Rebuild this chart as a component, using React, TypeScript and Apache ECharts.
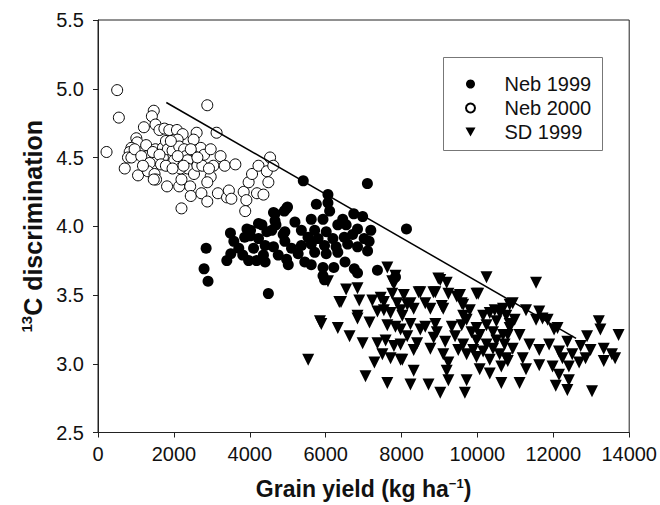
import React, { useEffect, useRef } from "react";
import * as echarts from "echarts";

// Neb 2000 (open circles): [grain yield kg/ha, 13C discrimination]
const neb2000: number[][] = [
  [505, 4.99], [550, 4.79], [225, 4.54], [2880, 4.88], [1470, 4.84], [1420, 4.8], [1210, 4.72],
  [1515, 4.74], [1620, 4.7], [1750, 4.71], [1880, 4.7], [2080, 4.7], [2230, 4.67], [2600, 4.68],
  [2520, 4.63], [3125, 4.68], [1010, 4.64], [1035, 4.61], [880, 4.57], [835, 4.54], [790, 4.5],
  [880, 4.5], [705, 4.42], [1055, 4.37], [1270, 4.59], [1300, 4.51], [1360, 4.46], [1315, 4.4],
  [1490, 4.38], [1530, 4.34], [1515, 4.56], [1710, 4.57], [1710, 4.5], [1790, 4.62], [1840, 4.56],
  [1965, 4.55], [2010, 4.48], [2100, 4.63], [2140, 4.58], [2270, 4.56], [2315, 4.51], [2360, 4.48],
  [2360, 4.42], [2530, 4.38], [2620, 4.44], [2710, 4.57], [2795, 4.52], [2750, 4.44], [2970, 4.56],
  [3040, 4.44], [2970, 4.36], [2880, 4.32], [3230, 4.51], [3340, 4.44], [3620, 4.45], [1820, 4.29],
  [2140, 4.29], [2200, 4.34], [2430, 4.29], [2445, 4.22], [2200, 4.13], [2725, 4.24], [2880, 4.18],
  [3160, 4.24], [3400, 4.21], [3450, 4.26], [3515, 4.2], [3840, 4.25], [3910, 4.19], [3880, 4.11],
  [3970, 4.32], [4060, 4.38], [4190, 4.24], [4360, 4.23], [4230, 4.44], [4450, 4.4], [4490, 4.32],
  [4535, 4.5], [4620, 4.44], [965, 4.56], [1140, 4.51], [1445, 4.54], [1620, 4.52], [1660, 4.45],
  [1790, 4.44], [2100, 4.51], [2170, 4.42], [1185, 4.44], [1920, 4.62], [1965, 4.42], [2445, 4.56],
  [2620, 4.5], [2925, 4.42], [1470, 4.34], [2255, 4.44],
];

// Neb 1999 (filled circles)
const neb1999: number[][] = [
  [3490, 3.95], [4665, 4.09], [4970, 4.13], [4230, 4.02], [3925, 3.98], [4450, 3.96], [4015, 3.93],
  [4690, 4.01], [4925, 3.96], [5410, 4.33], [7100, 4.31], [6060, 4.23], [6060, 4.17], [5755, 4.16],
  [4995, 4.14], [4910, 4.11], [6105, 4.11], [4625, 4.1], [4665, 4.04], [5190, 4.03], [5620, 4.05],
  [5930, 4.05], [6450, 4.05], [6740, 4.09], [6975, 4.07], [6540, 4.01], [6320, 4.01], [6840, 3.98],
  [7190, 3.97], [8130, 3.98], [4320, 4.01], [4580, 3.97], [4880, 3.94], [5360, 3.97], [5710, 3.97],
  [6015, 3.96], [5535, 3.92], [5800, 3.91], [6190, 3.91], [6490, 3.92], [6710, 3.94], [7015, 3.91],
  [7145, 3.89], [4230, 3.91], [4405, 3.86], [4625, 3.85], [4925, 3.89], [5100, 3.84], [5360, 3.86],
  [5620, 3.87], [5970, 3.86], [6275, 3.85], [6580, 3.87], [6840, 3.85], [7105, 3.82], [4360, 3.79],
  [4750, 3.79], [4970, 3.76], [5275, 3.8], [5710, 3.81], [6015, 3.8], [6320, 3.81], [4405, 3.74],
  [5015, 3.72], [5450, 3.74], [5620, 3.72], [5930, 3.7], [6215, 3.7], [6510, 3.74], [6755, 3.69],
  [6840, 3.66], [5930, 3.64], [5970, 3.61], [7365, 3.68], [7840, 3.63], [4490, 3.51], [2795, 3.69],
  [2900, 3.6], [2850, 3.84], [3395, 3.75], [3580, 3.89], [3710, 3.84], [3865, 3.92], [4020, 3.97],
  [3815, 3.79], [3500, 3.8], [4100, 3.84], [4180, 3.75], [3970, 3.75],
];

// SD 1999 (filled down-triangles)
const sd1999: number[][] = [
  [7625, 3.7], [7800, 3.58], [6540, 3.54], [6840, 3.55], [7230, 3.46], [6360, 3.45], [8060, 3.5],
  [8970, 3.62], [9190, 3.59], [6060, 3.6], [5540, 3.03], [5850, 3.31], [7840, 3.64], [10240, 3.63],
  [11545, 3.59], [6405, 3.45], [6885, 3.46], [5885, 3.29], [6840, 3.33], [7535, 3.45], [8495, 3.52],
  [8890, 3.52], [9020, 3.61], [9540, 3.5], [10020, 3.51], [10850, 3.43], [11280, 3.39], [8760, 3.4],
  [9100, 3.4], [9625, 3.43], [7975, 3.39], [8320, 3.4], [7365, 3.38], [7710, 3.37], [10590, 3.37],
  [10500, 3.31], [10980, 3.32], [11715, 3.33], [7755, 3.6], [7450, 3.48], [7755, 3.51], [8450, 3.52],
  [8840, 3.52], [9235, 3.51], [9455, 3.49], [9975, 3.51], [7535, 3.39], [7885, 3.44], [8235, 3.44],
  [8625, 3.44], [9060, 3.42], [9585, 3.44], [9800, 3.39], [10325, 3.37], [10675, 3.4], [10930, 3.44],
  [7625, 3.28], [7840, 3.27], [8235, 3.29], [8625, 3.27], [8890, 3.29], [9325, 3.27], [9715, 3.32],
  [9975, 3.26], [10240, 3.28], [10850, 3.29], [7580, 3.17], [7800, 3.13], [8150, 3.2], [8410, 3.15],
  [8845, 3.19], [9150, 3.16], [9410, 3.2], [9625, 3.14], [9975, 3.17], [10240, 3.14], [10500, 3.17],
  [10715, 3.14], [7495, 3.07], [7710, 3.04], [8020, 3.03], [8320, 3.1], [9100, 3.07], [9235, 3.01],
  [9715, 3.07], [9975, 3.05], [10150, 3.09], [10325, 3.03], [10585, 3.07], [10800, 3.02], [8320, 2.95],
  [9190, 2.95], [9235, 2.88], [10060, 2.96], [10325, 2.93], [10630, 2.98], [7625, 2.86], [8235, 2.85],
  [8710, 2.85], [9020, 2.79], [9715, 2.88], [9670, 2.79], [10630, 2.86], [11630, 3.38], [11545, 3.32],
  [11850, 3.32], [12110, 3.26], [12020, 3.25], [13200, 3.31], [13240, 3.25], [13720, 3.21], [12890, 3.2],
  [12370, 3.16], [12720, 3.13], [12980, 3.1], [13330, 3.11], [13545, 3.07], [13630, 3.04], [13330, 3.02],
  [10850, 3.26], [11110, 3.21], [11370, 3.14], [10930, 3.11], [11630, 3.1], [11890, 3.14], [12150, 3.09],
  [12500, 3.07], [12850, 3.04], [12240, 3.04], [11195, 3.04], [11630, 2.99], [11980, 2.98], [12410, 2.98],
  [12680, 3.01], [12150, 2.92], [12410, 2.88], [11110, 2.86], [12065, 2.84], [12370, 2.81], [13020, 2.8],
  [10760, 3.04], [11280, 2.96], [7975, 3.03], [8150, 3.43], [8020, 3.35], [7975, 3.14], [6320, 3.26],
  [6630, 3.2], [6975, 3.15], [7155, 3.3], [7365, 3.15], [6840, 3.35], [7285, 3.01], [7050, 2.91],
  [9845, 3.23], [10060, 3.21], [10410, 3.23], [10675, 3.21], [9585, 3.28], [9625, 3.35], [10150, 3.35],
  [10455, 3.39], [10760, 3.35], [10800, 3.21], [9890, 3.1], [10410, 3.11], [9495, 3.1], [8760, 3.11],
  [8495, 3.25], [7975, 3.25], [8930, 3.23],
];

// Regression line end points
const fitLine: number[][] = [[1800, 4.9], [12600, 3.185]];

const xTicks = { min: 0, max: 14000, interval: 2000 };
const yTicks = { min: 2.5, max: 5.5, interval: 0.5 };
const legendNames = ["Neb 1999", "Neb 2000", "SD 1999"];

const FONT = "'Liberation Sans', Arial, sans-serif";
const DOWN_TRIANGLE = "path://M0,0L10,0L5,9Z";

export default function App() {
  const ref = useRef<HTMLDivElement>(null);
  useEffect(() => {
    if (!ref.current) return;
    const chart = echarts.init(ref.current, undefined, { renderer: "svg" });
    chart.setOption({
      animation: false,
      backgroundColor: "#fff",
      textStyle: { fontFamily: FONT },
      grid: {
        left: 98, right: 27, top: 20, bottom: 71,
        show: true, borderColor: "#222", borderWidth: 1, backgroundColor: "transparent",
      },
      xAxis: {
        type: "value", ...xTicks,
        axisLine: { show: true, lineStyle: { color: "#222", width: 1 } },
        axisTick: { show: true, inside: false, length: 5, lineStyle: { color: "#222" } },
        axisLabel: { color: "#111", fontSize: 20, fontFamily: FONT, margin: 11, formatter: (v: number) => String(v) },
        splitLine: { show: false },
        name: "{b|Grain yield (kg ha}{s|−1}{b|)}",
        nameLocation: "middle",
        nameGap: 44,
        nameTextStyle: {
          rich: {
            b: { fontSize: 23, fontWeight: "bold", color: "#111", fontFamily: FONT },
            s: { fontSize: 13, fontWeight: "bold", color: "#111", fontFamily: FONT, verticalAlign: "top", padding: [0, 0, 11, 0] },
          },
        },
      },
      yAxis: {
        type: "value", ...yTicks,
        axisLine: { show: true, lineStyle: { color: "#222", width: 1 } },
        axisTick: { show: true, inside: false, length: 5, lineStyle: { color: "#222" } },
        axisLabel: { color: "#111", fontSize: 20, fontFamily: FONT, margin: 14, formatter: (v: number) => v.toFixed(1) },
        splitLine: { show: false },
        name: "{s|13}{b|C discrimination}",
        nameLocation: "middle",
        nameGap: 50,
        nameRotate: 90,
        nameTextStyle: {
          rich: {
            b: { fontSize: 25, fontWeight: "bold", color: "#111", fontFamily: FONT },
            s: { fontSize: 15, fontWeight: "bold", color: "#111", fontFamily: FONT, verticalAlign: "top", padding: [0, 0, 12, 0] },
          },
        },
      },
      legend: {
        orient: "vertical",
        left: 460,
        top: 67,
        itemGap: 0,
        itemWidth: 10,
        itemHeight: 9,
        data: [
          { name: legendNames[0], icon: "circle" },
          { name: legendNames[1], icon: "circle" },
          { name: legendNames[2], icon: DOWN_TRIANGLE },
        ],
        textStyle: { fontSize: 20, lineHeight: 24, color: "#111", fontFamily: FONT, padding: [0, 0, 0, 24] },
      },
      graphic: [
        {
          type: "rect",
          left: 441, top: 55,
          shape: { width: 159, height: 93 },
          style: { fill: "none", stroke: "#777", lineWidth: 1 },
          z: 10,
        },
      ],
      series: [
        {
          name: legendNames[2], type: "scatter", data: sd1999,
          symbol: "triangle", symbolRotate: 180, symbolSize: 12,
          itemStyle: { color: "#000", opacity: 1 },
        },
        {
          name: legendNames[0], type: "scatter", data: neb1999,
          symbol: "circle", symbolSize: 11,
          itemStyle: { color: "#000", opacity: 1 },
        },
        {
          name: legendNames[1], type: "scatter", data: neb2000,
          symbol: "circle", symbolSize: 11,
          itemStyle: { color: "#fff", borderColor: "#000", borderWidth: 1, opacity: 1 },
        },
        {
          name: "fit", type: "line", data: fitLine, symbol: "none",
          lineStyle: { color: "#000", width: 1.5 }, z: 5,
        },
      ],
    });
    return () => chart.dispose();
  }, []);
  return <div ref={ref} style={{ position: "fixed", left: 0, top: 0, width: 660, height: 505 }} />;
}
